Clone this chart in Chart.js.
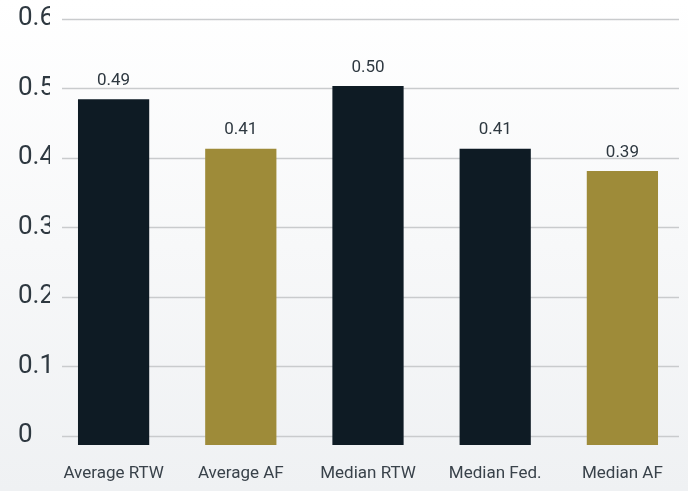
<!DOCTYPE html>
<html>
<head>
<meta charset="utf-8">
<script src="https://cdn.jsdelivr.net/npm/chart.js@4/dist/chart.umd.min.js"></script>
<style>
  html, body { margin: 0; padding: 0; }
  body { width: 688px; height: 491px; background: linear-gradient(#ffffff, #eff1f3); }
  #wrap { width: 688px; height: 491px; position: relative; }
</style>
</head>
<body>
<div id="wrap"><canvas id="chart"></canvas></div>
<script>
const categories = ["Average RTW", "Average AF", "Median RTW", "Median Fed.", "Median AF"];
const barValues = [0.484, 0.413, 0.503, 0.413, 0.381];
const valueLabels = ["0.49", "0.41", "0.50", "0.41", "0.39"];
const barColors = ["#0e1b24", "#9e8b39", "#0e1b24", "#0e1b24", "#9e8b39"];
const yTicks = [0, 0.1, 0.2, 0.3, 0.4, 0.5, 0.6];

const textColor = "#2e3840";
const fontFamily = "Roboto, 'Liberation Sans', sans-serif";

// grid lines drawn a bit inset from the chart area, like the original
const insetGrid = {
  id: "insetGrid",
  beforeDatasetsDraw(chart) {
    const ctx = chart.ctx;
    const area = chart.chartArea;
    const y = chart.scales.y;
    ctx.save();
    ctx.strokeStyle = "#c9cbcd";
    ctx.lineWidth = 1.5;
    yTicks.forEach(function(v) {
      const py = Math.round(y.getPixelForValue(v)) + 0.5;
      ctx.beginPath();
      ctx.moveTo(area.left + 12, py);
      ctx.lineTo(area.right - 7, py);
      ctx.stroke();
    });
    ctx.restore();
  }
};

const barLabels = {
  id: "barLabels",
  afterDatasetsDraw(chart) {
    const ctx = chart.ctx;
    const meta = chart.getDatasetMeta(0);
    ctx.save();
    ctx.font = "17px " + fontFamily;
    ctx.fillStyle = textColor;
    ctx.textAlign = "center";
    ctx.textBaseline = "bottom";
    meta.data.forEach(function(bar, i) {
      ctx.fillText(valueLabels[i], bar.x, bar.y - 10);
    });
    ctx.restore();
  }
};

new Chart(document.getElementById("chart").getContext("2d"), {
  type: "bar",
  data: {
    labels: categories,
    datasets: [{
      data: barValues,
      backgroundColor: barColors,
      base: -0.013,
      categoryPercentage: 1,
      barPercentage: 0.56
    }]
  },
  options: {
    responsive: true,
    maintainAspectRatio: false,
    animation: false,
    layout: { padding: { left: 18, right: 2, top: 18, bottom: 0 } },
    plugins: {
      legend: { display: false },
      tooltip: { enabled: false }
    },
    scales: {
      x: {
        grid: { display: false },
        border: { display: false },
        ticks: {
          color: "#39424a",
          font: { family: fontFamily, size: 17 },
          padding: 11,
          maxRotation: 0
        },
        afterFit(scale) { scale.height = 46; }
      },
      y: {
        min: -0.013,
        max: 0.6,
        grid: { display: false },
        border: { display: false },
        afterBuildTicks(scale) {
          scale.ticks = yTicks.map(function(v) { return { value: v }; });
        },
        afterFit(scale) { scale.width = 32; },
        ticks: {
          crossAlign: "far",
          color: textColor,
          font: { family: fontFamily, size: 26 },
          callback: function(v) { return String(Math.round(v * 10) / 10); }
        }
      }
    }
  },
  plugins: [insetGrid, barLabels]
});
</script>
</body>
</html>
